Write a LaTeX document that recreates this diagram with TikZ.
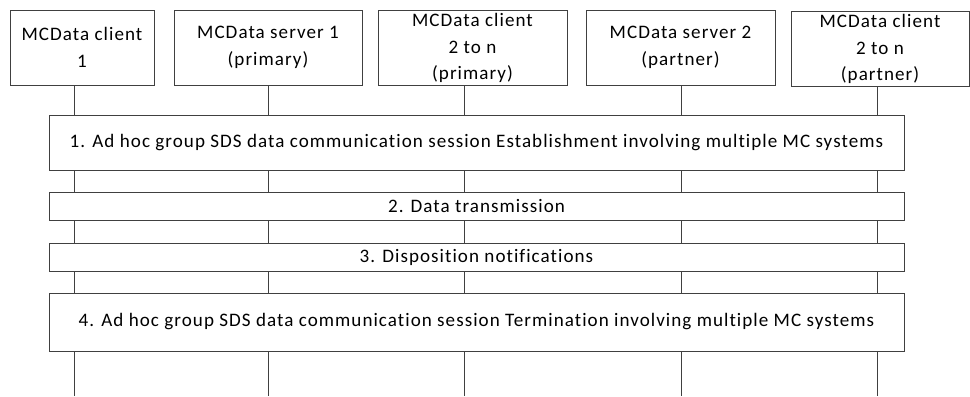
\documentclass[tikz,border=0pt]{standalone}
\usepackage{fontspec}
\setmainfont{Carlito}[LetterSpace=5.5, Ligatures=NoCommon]
\usetikzlibrary{positioning}

\tikzset{
	hdr/.style={draw=black!75, line width=0.6pt, align=center, inner sep=0pt, minimum height=75*0.75pt, font=\fontsize{14.3}{20}\selectfont},
	bar/.style={draw=black!75, line width=0.6pt, fill=white, inner sep=0pt, minimum width=855*0.75pt, font=\fontsize{14.3}{20}\selectfont},
	life/.style={draw=black!75, line width=0.6pt}
}

\begin{document}
\begin{tikzpicture}[x=0.75pt,y=0.75pt,yscale=-1,xscale=1]
	\useasboundingbox (0,0) rectangle (970,396);
	
	% header boxes
	\node [hdr, minimum width=144*0.75pt] (client1) at (82,47.5) {MCData client\\1};
	\node [hdr, minimum width=188*0.75pt] (server1) at (268,47.5) {MCData server 1\\(primary)};
	\node [hdr, minimum width=189*0.75pt] (clientp) at (472.5,48) {MCData client\\2 to n\\(primary)};
	\node [hdr, minimum width=189*0.75pt] (server2) at (680.5,47.5) {MCData server 2\\(partner)};
	\node [hdr, minimum width=178*0.75pt] (clientq) at (880,49) {MCData client\\2 to n\\(partner)};
	
	% lifeline ends
	\coordinate (end1) at (74,396);
	\coordinate (end2) at (268,396);
	\coordinate (end3) at (464,396);
	\coordinate (end4) at (681,396);
	\coordinate (end5) at (877,396);
	
	% lifelines
	\draw [life] (end1 |- client1.south) -- (end1);
	\draw [life] (end2 |- server1.south) -- (end2);
	\draw [life] (end3 |- clientp.south) -- (end3);
	\draw [life] (end4 |- server2.south) -- (end4);
	\draw [life] (end5 |- clientq.south) -- (end5);
	
	% procedure bars
	\node [bar, minimum height=55*0.75pt] (establish) at (476.5,142.5) {1. Ad hoc group SDS data communication session Establishment involving multiple MC systems};
	\node [bar, minimum height=28*0.75pt] (transmit) at (476.5,206) {2. Data transmission};
	\node [bar, minimum height=28*0.75pt] (dispose) at (476.5,257) {3. Disposition notifications};
	\node [bar, minimum height=58*0.75pt] (terminate) at (476.5,322) {4. Ad hoc group SDS data communication session Termination involving multiple MC systems};
	
\end{tikzpicture}
\end{document}
